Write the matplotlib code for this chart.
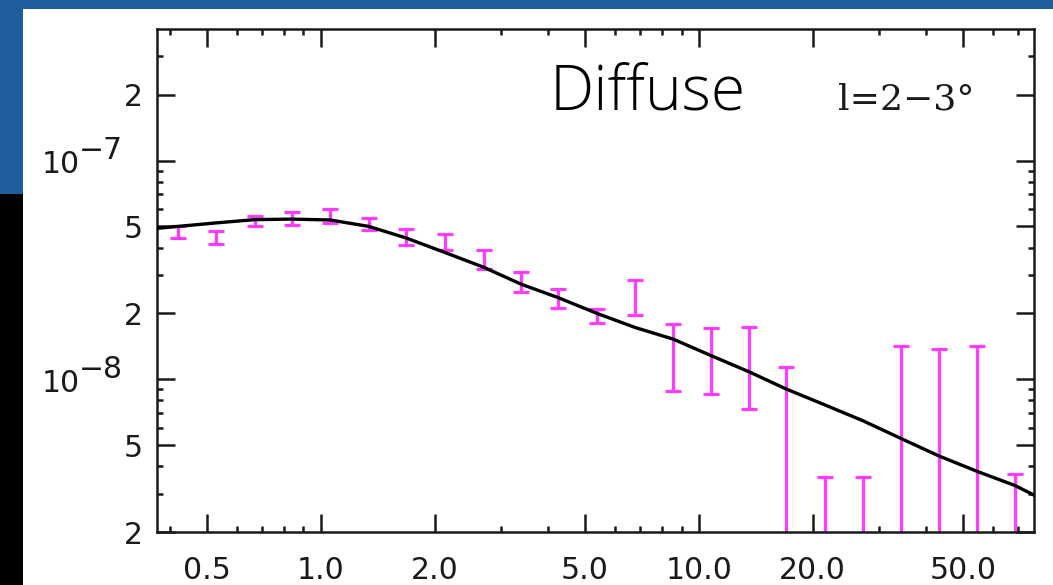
import matplotlib
matplotlib.use('Agg')
import matplotlib.pyplot as plt
from matplotlib.patches import Rectangle
from matplotlib.ticker import FixedLocator, FixedFormatter, NullFormatter
import numpy as np

TickSize = 21.5
BigSize = 45
LabelSize = 26

# Datos (x en GeV, y en unidades de 1e-8)
x_dat = [0.42, 0.53, 0.67, 0.84, 1.06, 1.34, 1.68, 2.13, 2.70, 3.39, 4.25, 5.38,
         6.78, 8.55, 10.8, 13.6, 17.0, 21.5, 27.2, 34.3, 43.1, 54.4, 68.7]
y_dat = [4.72, 4.46, 5.30, 5.45, 5.60, 5.15, 4.50, 4.26, 3.53, 2.80, 2.36, 1.955,
         2.41, 1.336, 1.29, 1.23, 0.583, 0.12, 0.12, 0.707, 0.688, 0.707, 0.12]
y_err = [0.29, 0.29, 0.30, 0.35, 0.41, 0.32, 0.37, 0.37, 0.35, 0.29, 0.235, 0.15,
         0.447, 0.45, 0.434, 0.497, 0.551, 0.238, 0.238, 0.715, 0.686, 0.715, 0.248]

# Modelo
x_mod = [0.369, 0.53, 0.67, 0.84, 1.06, 1.34, 1.68, 2.13, 2.70, 3.39, 4.25, 5.38,
         6.78, 8.55, 10.8, 13.6, 17.0, 21.5, 27.2, 34.3, 43.1, 54.4, 68.7, 77.0]
y_mod = [4.9, 5.19, 5.37, 5.4, 5.35, 5.0, 4.43, 3.8, 3.25, 2.72, 2.36, 2.0,
         1.725, 1.526, 1.28, 1.08, 0.903, 0.764, 0.645, 0.535, 0.446, 0.379, 0.326, 0.295]

x_ticks = [0.5, 1.0, 2.0, 5.0, 10.0, 20.0, 50.0]
x_ticklabels = ['0.5', '1.0', '2.0', '5.0', '10.0', '20.0', '50.0']
y_ticks = [2e-9, 5e-9, 1e-8, 2e-8, 5e-8, 1e-7, 2e-7]
y_ticklabels = ['2', '5', '', '2', '5', '', '2']

W, H = 1053, 585
fig = plt.figure(figsize=(W/100, H/100), dpi=100, facecolor='#1f5e9c')

# fondo: panel blanco y franja negra
fig.patches.append(Rectangle((23/W, 0), 1 - 23/W, (H - 9)/H, transform=fig.transFigure,
                             facecolor='white', edgecolor='none', zorder=-2))
fig.patches.append(Rectangle((0, 0), 23/W, (H - 194)/H, transform=fig.transFigure,
                             facecolor='black', edgecolor='none', zorder=-2))

ax = fig.add_axes([157/W, (H - 532)/H, (1034 - 157)/W, (532 - 29)/H])
ax.set_xscale('log')
ax.set_yscale('log')
ax.patch.set_alpha(0)

sc = 1e-8
ax.plot(x_mod, np.array(y_mod)*sc, color='black', lw=2.4, zorder=3)
ax.errorbar(x_dat, np.array(y_dat)*sc, yerr=np.array(y_err)*sc, fmt='.', ms=2,
            color='#ff3cff', ecolor='#ff3cff', elinewidth=2.3, capsize=6, capthick=2.3,
            zorder=2)

ax.set_xlim(0.369, 77)
ax.set_ylim(2e-9, 4e-7)

ax.xaxis.set_major_locator(FixedLocator(x_ticks))
ax.xaxis.set_major_formatter(FixedFormatter(x_ticklabels))
ax.xaxis.set_minor_locator(FixedLocator([0.4, 0.6, 0.7, 0.8, 0.9, 3, 4, 6, 7, 8, 9,
                                         30, 40, 60, 70]))
ax.xaxis.set_minor_formatter(NullFormatter())
ax.yaxis.set_major_locator(FixedLocator(y_ticks))
ax.yaxis.set_major_formatter(FixedFormatter(y_ticklabels))
ax.yaxis.set_minor_locator(FixedLocator([3e-9, 4e-9, 6e-9, 7e-9, 8e-9, 9e-9,
                                         3e-8, 4e-8, 6e-8, 7e-8, 8e-8, 9e-8, 3e-7]))
ax.yaxis.set_minor_formatter(NullFormatter())

ax.tick_params(which='both', direction='in', top=True, right=True, width=1.8,
               colors='#1a1a1a', labelsize=TickSize)
ax.tick_params(which='major', length=13)
ax.tick_params(which='minor', length=4.5)
ax.tick_params(axis='x', pad=17)
ax.tick_params(axis='y', pad=10)
for s in ax.spines.values():
    s.set_linewidth(1.8)
    s.set_color('#1a1a1a')

# etiquetas 10^-7 y 10^-8
for val, exp in [(1e-7, '\u22127'), (1e-8, '\u22128')]:
    ax.annotate('10', xy=(0, val), xycoords=('axes fraction', 'data'),
                xytext=(-77, -4), textcoords='offset pixels', ha='right', va='center',
                fontsize=TickSize, color='#1a1a1a', annotation_clip=False)
    ax.annotate(exp, xy=(0, val), xycoords=('axes fraction', 'data'),
                xytext=(-78, 10), textcoords='offset pixels', ha='left', va='center',
                fontsize=TickSize, color='#1a1a1a', annotation_clip=False)

fig.text(550/W, (H - 110)/H, 'Diffuse', fontsize=BigSize, family='Open Sans',
         fontweight='light', color='black', va='baseline', ha='left')
fig.text(838/W, (H - 110)/H, 'l=2\u22123\u00b0', fontsize=LabelSize, family='DejaVu Serif',
         color='#1a1a1a', va='baseline', ha='left')

fig.savefig('out.png', dpi=100, facecolor=fig.get_facecolor())
